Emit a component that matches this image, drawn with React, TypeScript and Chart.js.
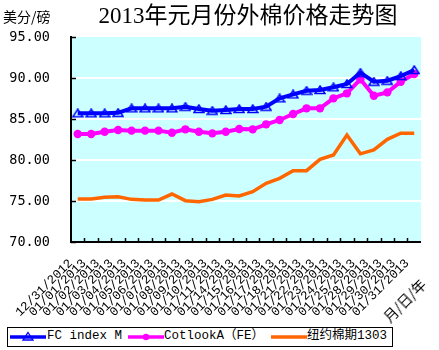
import React, { useEffect, useRef } from "react";
import { Chart, registerables } from "chart.js";

Chart.register(...registerables);

const dates = [
  "12/31/2012", "01/01/2013", "01/02/2013", "01/03/2013", "01/04/2013", "01/05/2013",
  "01/06/2013", "01/07/2013", "01/08/2013", "01/09/2013", "01/10/2013", "01/11/2013",
  "01/14/2013", "01/15/2013", "01/16/2013", "01/17/2013", "01/18/2013", "01/21/2013",
  "01/22/2013", "01/23/2013", "01/24/2013", "01/25/2013", "01/28/2013", "01/29/2013",
  "01/30/2013", "01/31/2013",
];

const fcIndexM = [
  85.7, 85.7, 85.7, 85.75, 86.3, 86.3, 86.3, 86.3, 86.5, 86.22, 86.01, 86.1, 86.22,
  86.22, 86.5, 87.52, 88.0, 88.45, 88.54, 88.87, 89.27, 90.65, 89.55, 89.67, 90.24, 90.98,
];

const cotlookA = [
  83.17, 83.17, 83.45, 83.66, 83.58, 83.58, 83.58, 83.33, 83.74, 83.45, 83.25, 83.45, 83.78,
  83.74, 84.35, 84.88, 85.61, 86.3, 86.3, 87.52, 88.13, 89.84, 87.84, 88.25, 89.55, 90.49,
];

const nyFutures1303 = [
  75.24, 75.24, 75.45, 75.52, 75.2, 75.12, 75.12, 75.85, 75.04, 74.92, 75.2, 75.73, 75.61,
  76.14, 77.15, 77.77, 78.7, 78.7, 80.08, 80.61, 83.05, 80.75, 81.22, 82.52, 83.26, 83.26,
];

const seriesNames = ["FC index M", "CotlookA（FE）", "纽约棉期1303"];
const yMin = 70;
const yMax = 95;
const yStep = 5;

const BLUE = "#0000FF";
const MAGENTA = "#FF00FF";
const ORANGE = "#FF6600";
const PLOT_BG = "#CCFFFF";

function makeTriangle(): HTMLCanvasElement {
  const c = document.createElement("canvas");
  c.width = 12;
  c.height = 10;
  const g = c.getContext("2d")!;
  g.strokeStyle = BLUE;
  g.lineWidth = 1.5;
  g.beginPath();
  g.moveTo(6, 1);
  g.lineTo(11, 8.5);
  g.lineTo(1, 8.5);
  g.closePath();
  g.stroke();
  return c;
}

const bgPlugin = {
  id: "plotBg",
  beforeDraw(chart: any) {
    const { ctx, chartArea } = chart;
    ctx.save();
    ctx.fillStyle = PLOT_BG;
    ctx.fillRect(chartArea.left, chartArea.top, chartArea.right - chartArea.left, chartArea.bottom - chartArea.top);
    ctx.restore();
  },
};

const innerTicksPlugin = {
  id: "innerTicks",
  afterDraw(chart: any) {
    const { ctx, chartArea, scales } = chart;
    const x = scales.x;
    const y = scales.y;
    ctx.save();
    ctx.strokeStyle = "#000";
    ctx.lineWidth = 1.5;
    ctx.beginPath();
    y.ticks.forEach((_t: any, i: number) => {
      const py = Math.round(y.getPixelForTick(i)) + 0.5;
      ctx.moveTo(chartArea.left, py);
      ctx.lineTo(chartArea.left + 5, py);
    });
    const n = x.ticks.length;
    const w = (chartArea.right - chartArea.left) / n;
    for (let k = 1; k < n; k++) {
      const px = Math.round(chartArea.left + k * w) + 0.5;
      ctx.moveTo(px, chartArea.bottom);
      ctx.lineTo(px, chartArea.bottom - 4);
    }
    ctx.stroke();
    ctx.restore();
  },
};

function LegendSymbol({ color, marker }: { color: string; marker: "tri" | "dot" | "none" }) {
  return (
    <svg width={36} height={12} style={{ display: "block" }}>
      <line x1={0} y1={6} x2={36} y2={6} stroke={color} strokeWidth={3.5} />
      {marker === "tri" && (
        <polygon points="18,1.5 23,9 13,9" fill="none" stroke={color} strokeWidth={1.3} />
      )}
      {marker === "dot" && <circle cx={18} cy={6} r={3.2} fill={color} />}
    </svg>
  );
}

export default function App() {
  const canvasRef = useRef<HTMLCanvasElement | null>(null);

  useEffect(() => {
    document.body.style.margin = "0";
    const canvas = canvasRef.current!;
    const tri = makeTriangle();
    const chart = new Chart(canvas, {
      type: "line",
      data: {
        labels: dates,
        datasets: [
          {
            label: seriesNames[0],
            data: fcIndexM,
            borderColor: BLUE,
            backgroundColor: BLUE,
            borderWidth: 4,
            pointStyle: tri as any,
            pointRadius: 5,
            tension: 0,
          },
          {
            label: seriesNames[1],
            data: cotlookA,
            borderColor: MAGENTA,
            backgroundColor: MAGENTA,
            borderWidth: 4,
            pointStyle: "circle",
            pointRadius: 4.2,
            pointBorderWidth: 0,
            tension: 0,
          },
          {
            label: seriesNames[2],
            data: nyFutures1303,
            borderColor: ORANGE,
            backgroundColor: ORANGE,
            borderWidth: 3.5,
            pointRadius: 0,
            tension: 0,
          },
        ],
      },
      options: {
        responsive: false,
        animation: false,
        layout: { padding: { top: 37, right: 7, bottom: 0, left: 0 } },
        plugins: {
          legend: { display: false },
          title: { display: false },
          tooltip: { enabled: false },
        },
        scales: {
          x: {
            type: "category",
            offset: true,
            grid: { display: false, drawTicks: false },
            border: { display: true, color: "#000", width: 2 },
            ticks: {
              autoSkip: false,
              minRotation: 45,
              maxRotation: 45,
              padding: 14,
              labelOffset: -7,
              color: "#000",
              font: { family: "'Liberation Mono', monospace", size: 12.5 },
            },
            afterFit(s: any) {
              s.height = 108;
            },
          },
          y: {
            min: yMin,
            max: yMax,
            ticks: {
              stepSize: yStep,
              padding: 21,
              color: "#000",
              font: { family: "'DejaVu Sans Mono', monospace", size: 13.5 },
              callback: (v: any) => Number(v).toFixed(2),
            },
            grid: {
              drawTicks: false,
              lineWidth: 2,
              color: (c: any) =>
                c.tick && c.tick.value > yMin && c.tick.value < yMax ? "#FFFFFF" : "rgba(0,0,0,0)",
            },
            border: { display: true, color: "#000", width: 2 },
            afterFit(s: any) {
              s.width = 71;
            },
          },
        },
      },
      plugins: [bgPlugin, innerTicksPlugin],
    });
    return () => chart.destroy();
  }, []);

  const legendFont = "'Liberation Mono', 'Noto Sans CJK SC', monospace";

  return (
    <div style={{ position: "relative", width: 439, height: 350, background: "#fff", overflow: "hidden" }}>
      <canvas ref={canvasRef} width={439} height={350} style={{ position: "absolute", left: 0, top: 0 }} />
      <div
        style={{
          position: "absolute",
          left: 3,
          top: 6,
          fontSize: 14,
          lineHeight: "20px",
          fontFamily: "'Noto Sans CJK SC', sans-serif",
          color: "#000",
          whiteSpace: "nowrap",
        }}
      >
        美分/磅
      </div>
      <div
        style={{
          position: "absolute",
          left: 60,
          width: 376,
          top: 2,
          textAlign: "center",
          fontSize: 23,
          lineHeight: "28px",
          fontFamily: "'Liberation Serif', 'Noto Sans CJK SC', serif",
          color: "#000",
          whiteSpace: "nowrap",
        }}
      >
        2013年元月份外棉价格走势图
      </div>
      <div
        style={{
          position: "absolute",
          left: 404 - 30,
          top: 300 - 10,
          width: 60,
          height: 20,
          lineHeight: "20px",
          textAlign: "center",
          fontSize: 14,
          fontFamily: "'Noto Sans CJK SC', sans-serif",
          color: "#000",
          transform: "rotate(-45deg)",
          transformOrigin: "50% 50%",
          whiteSpace: "nowrap",
        }}
      >
        月/日/年
      </div>
      <div
        style={{
          position: "absolute",
          left: 7,
          top: 327,
          width: 386,
          height: 20,
          boxSizing: "border-box",
          border: "1.5px solid #000",
          background: "#fff",
          fontFamily: legendFont,
          fontSize: 12.5,
          color: "#000",
          whiteSpace: "nowrap",
        }}
      >
        <div style={{ position: "absolute", left: 2, top: 3 }}>
          <LegendSymbol color={BLUE} marker="tri" />
        </div>
        <div style={{ position: "absolute", left: 39, top: 0, lineHeight: "17px" }}>{seriesNames[0]}</div>
        <div style={{ position: "absolute", left: 120, top: 3 }}>
          <LegendSymbol color={MAGENTA} marker="dot" />
        </div>
        <div style={{ position: "absolute", left: 156, top: 0, lineHeight: "17px" }}>{seriesNames[1]}</div>
        <div style={{ position: "absolute", left: 263, top: 3 }}>
          <LegendSymbol color={ORANGE} marker="none" />
        </div>
        <div style={{ position: "absolute", left: 299, top: 0, lineHeight: "17px" }}>{seriesNames[2]}</div>
      </div>
    </div>
  );
}
